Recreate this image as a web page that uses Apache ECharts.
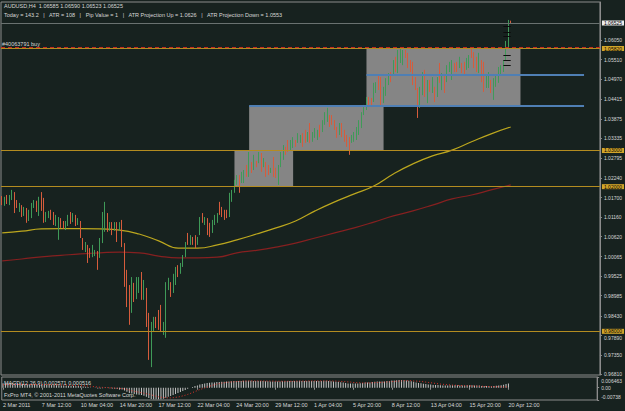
<!DOCTYPE html>
<html>
<head>
<meta charset="utf-8">
<title>AUDUSD,H4</title>
<script src="https://cdn.jsdelivr.net/npm/echarts@6/dist/echarts.min.js"></script>
<style>
  html, body { margin: 0; padding: 0; background: #17221f; }
  #chart { width: 625px; height: 411px; }
</style>
</head>
<body>
<div id="chart"></div>
<script>
// time labels under the MACD pane, one every 16 H4 bars
const tickLabels = ['2 Mar 2011', '7 Mar 12:00', '10 Mar 04:00', '14 Mar 20:00', '17 Mar 12:00',
  '22 Mar 04:00', '24 Mar 20:00', '29 Mar 12:00', '1 Apr 04:00', '5 Apr 20:00', '8 Apr 12:00',
  '13 Apr 04:00', '15 Apr 20:00', '20 Apr 12:00']
const tickEvery = 16
const slotCount = 245 // 209 bars + empty chart shift on the right

const opens = [
  1.0172, 1.0152, 1.0166, 1.0155, 1.0172, 1.0183, 1.0155, 1.0144, 1.0147, 1.0124,
  1.0138, 1.0108, 1.0124, 1.0147, 1.0158, 1.0133, 1.0169, 1.0141, 1.0111, 1.0122,
  1.0133, 1.0124, 1.0102, 1.0105, 1.0111, 1.0102, 1.0089, 1.0097, 1.0127, 1.0105,
  1.0119, 1.0097, 1.0102, 1.0058, 1.0025, 1.0036, 1.0025, 1.0008, 1.0016, 1.0019,
  1.0011, 1.0053, 1.0119, 1.0124, 1.0083, 1.0097, 1.0080, 1.0100, 1.0080, 1.0102,
  1.0039, 0.9934, 0.9887, 0.9854, 0.9928, 0.9895, 0.9914, 0.9956, 0.9895, 0.9914,
  0.9837, 0.9743, 0.9804, 0.9837, 0.9854, 0.9867, 0.9798, 0.9793, 0.9920, 0.9934,
  0.9912, 0.9936, 0.9978, 0.9964, 0.9983, 1.0011, 1.0066, 1.0047, 1.0058, 1.0061,
  1.0041, 1.0072, 1.0124, 1.0097, 1.0111, 1.0094, 1.0075, 1.0097, 1.0105, 1.0147,
  1.0138, 1.0133, 1.0130, 1.0119, 1.0161, 1.0185, 1.0208, 1.0227, 1.0213, 1.0224,
  1.0246, 1.0230, 1.0265, 1.0252, 1.0268, 1.0268, 1.0288, 1.0257, 1.0265, 1.0254,
  1.0241, 1.0279, 1.0246, 1.0224, 1.0260, 1.0285, 1.0307, 1.0326, 1.0310, 1.0313,
  1.0326, 1.0324, 1.0324, 1.0343, 1.0351, 1.0329, 1.0371, 1.0329, 1.0340, 1.0335,
  1.0365, 1.0357, 1.0379, 1.0387, 1.0395, 1.0395, 1.0382, 1.0362, 1.0351, 1.0371,
  1.0351, 1.0337, 1.0329, 1.0324, 1.0332, 1.0335, 1.0357, 1.0368, 1.0401, 1.0418,
  1.0442, 1.0440, 1.0440, 1.0467, 1.0500, 1.0481, 1.0440, 1.0459, 1.0484, 1.0514,
  1.0517, 1.0550, 1.0523, 1.0556, 1.0550, 1.0572, 1.0564, 1.0545, 1.0534, 1.0495,
  1.0467, 1.0426, 1.0459, 1.0506, 1.0445, 1.0489, 1.0467, 1.0473, 1.0453, 1.0500,
  1.0481, 1.0500, 1.0495, 1.0523, 1.0506, 1.0539, 1.0539, 1.0534, 1.0539, 1.0534,
  1.0528, 1.0539, 1.0578, 1.0564, 1.0553, 1.0528, 1.0545, 1.0523, 1.0478, 1.0484,
  1.0489, 1.0451, 1.0484, 1.0495, 1.0517, 1.0523, 1.0556, 1.0589, 1.06585
]
const highs = [
  1.0174, 1.0172, 1.0177, 1.0177, 1.0191, 1.0185, 1.0163, 1.0155, 1.0149, 1.0144,
  1.0141, 1.0136, 1.0155, 1.0163, 1.0161, 1.0172, 1.0185, 1.0169, 1.0130, 1.0133,
  1.0136, 1.0130, 1.0122, 1.0116, 1.0113, 1.0105, 1.0105, 1.0122, 1.0130, 1.0127,
  1.0122, 1.0113, 1.0105, 1.0058, 1.0047, 1.0039, 1.0030, 1.0039, 1.0025, 1.0022,
  1.0058, 1.0130, 1.0158, 1.0127, 1.0102, 1.0102, 1.0102, 1.0102, 1.0102, 1.0108,
  1.0044, 0.9970, 0.9928, 0.9950, 0.9934, 0.9950, 0.9950, 0.9964, 0.9942, 0.9920,
  0.9851, 0.9826, 0.9840, 0.9840, 0.9859, 0.9873, 0.9826, 0.9936, 0.9948, 0.9936,
  0.9959, 0.9978, 0.9983, 0.9989, 1.0011, 1.0047, 1.0072, 1.0066, 1.0061, 1.0066,
  1.0061, 1.0116, 1.0127, 1.0116, 1.0113, 1.0100, 1.0108, 1.0122, 1.0127, 1.0158,
  1.0144, 1.0136, 1.0136, 1.0183, 1.0191, 1.0219, 1.0232, 1.0232, 1.0241, 1.0246,
  1.0260, 1.0296, 1.0268, 1.0288, 1.0271, 1.0296, 1.0293, 1.0279, 1.0268, 1.0260,
  1.0252, 1.0282, 1.0252, 1.0260, 1.0296, 1.0315, 1.0310, 1.0329, 1.0329, 1.0337,
  1.0329, 1.0348, 1.0343, 1.0348, 1.0357, 1.0351, 1.0376, 1.0351, 1.0362, 1.0357,
  1.0371, 1.0384, 1.0406, 1.0418, 1.0398, 1.0398, 1.0384, 1.0365, 1.0376, 1.0376,
  1.0357, 1.0343, 1.0337, 1.0343, 1.0351, 1.0365, 1.0384, 1.0406, 1.0426, 1.0448,
  1.0448, 1.0445, 1.0487, 1.0489, 1.0509, 1.0503, 1.0476, 1.0500, 1.0514, 1.0517,
  1.0550, 1.0559, 1.0578, 1.0583, 1.0578, 1.0578, 1.0570, 1.0550, 1.0545, 1.0503,
  1.0473, 1.0476, 1.0517, 1.0523, 1.0495, 1.0495, 1.0503, 1.0476, 1.0503, 1.0542,
  1.0514, 1.0509, 1.0536, 1.0545, 1.0550, 1.0542, 1.0545, 1.0559, 1.0542, 1.0545,
  1.0556, 1.0564, 1.0583, 1.0572, 1.0559, 1.0570, 1.0550, 1.0545, 1.0509, 1.0517,
  1.0495, 1.0500, 1.0509, 1.0531, 1.0536, 1.0550, 1.0603, 1.0661, 1.06590
]
const lows = [
  1.0149, 1.0147, 1.0152, 1.0149, 1.0163, 1.0127, 1.0141, 1.0130, 1.0116, 1.0119,
  1.0100, 1.0105, 1.0113, 1.0141, 1.0130, 1.0119, 1.0133, 1.0100, 1.0102, 1.0113,
  1.0108, 1.0094, 1.0091, 1.0053, 1.0086, 1.0083, 1.0080, 1.0091, 1.0097, 1.0102,
  1.0091, 1.0094, 1.0058, 1.0025, 1.0019, 0.9989, 1.0003, 1.0005, 1.0008, 0.9970,
  1.0003, 1.0044, 1.0075, 1.0075, 1.0078, 1.0066, 1.0078, 1.0047, 1.0078, 1.0033,
  0.9923, 0.9867, 0.9818, 0.9851, 0.9881, 0.9889, 0.9906, 0.9887, 0.9887, 0.9812,
  0.9721, 0.9701, 0.9798, 0.9809, 0.9804, 0.9798, 0.9790, 0.9782, 0.9914, 0.9895,
  0.9906, 0.9928, 0.9950, 0.9959, 0.9978, 1.0005, 1.0039, 1.0039, 1.0039, 1.0030,
  1.0039, 1.0066, 1.0100, 1.0094, 1.0066, 1.0061, 1.0072, 1.0094, 1.0100, 1.0122,
  1.0116, 1.0108, 1.0113, 1.0116, 1.0158, 1.0183, 1.0205, 1.0183, 1.0210, 1.0210,
  1.0227, 1.0227, 1.0238, 1.0246, 1.0254, 1.0265, 1.0241, 1.0254, 1.0227, 1.0232,
  1.0238, 1.0227, 1.0224, 1.0205, 1.0254, 1.0274, 1.0288, 1.0296, 1.0301, 1.0307,
  1.0310, 1.0321, 1.0321, 1.0310, 1.0321, 1.0324, 1.0321, 1.0324, 1.0335, 1.0329,
  1.0337, 1.0351, 1.0371, 1.0379, 1.0365, 1.0371, 1.0357, 1.0335, 1.0343, 1.0337,
  1.0324, 1.0310, 1.0288, 1.0321, 1.0324, 1.0329, 1.0343, 1.0362, 1.0398, 1.0412,
  1.0420, 1.0420, 1.0434, 1.0459, 1.0467, 1.0420, 1.0431, 1.0451, 1.0481, 1.0489,
  1.0509, 1.0517, 1.0514, 1.0542, 1.0536, 1.0556, 1.0528, 1.0517, 1.0481, 1.0467,
  1.0390, 1.0418, 1.0453, 1.0448, 1.0431, 1.0462, 1.0459, 1.0434, 1.0448, 1.0487,
  1.0467, 1.0459, 1.0489, 1.0517, 1.0495, 1.0517, 1.0517, 1.0528, 1.0514, 1.0509,
  1.0523, 1.0528, 1.0556, 1.0528, 1.0517, 1.0514, 1.0489, 1.0462, 1.0473, 1.0473,
  1.0459, 1.0440, 1.0476, 1.0487, 1.0509, 1.0517, 1.0550, 1.0586, 1.06523
]
const closes = [
  1.0152, 1.0166, 1.0155, 1.0172, 1.0185, 1.0136, 1.0144, 1.0149, 1.0124, 1.0138,
  1.0105, 1.0130, 1.0149, 1.0161, 1.0136, 1.0163, 1.0141, 1.0108, 1.0124, 1.0130,
  1.0113, 1.0100, 1.0113, 1.0111, 1.0091, 1.0089, 1.0100, 1.0113, 1.0102, 1.0124,
  1.0097, 1.0108, 1.0064, 1.0030, 1.0041, 1.0003, 1.0008, 1.0030, 1.0022, 0.9981,
  1.0053, 1.0122, 1.0149, 1.0083, 1.0097, 1.0075, 1.0097, 1.0053, 1.0097, 1.0039,
  0.9934, 0.9878, 0.9831, 0.9942, 0.9887, 0.9939, 0.9942, 0.9898, 0.9931, 0.9826,
  0.9735, 0.9795, 0.9834, 0.9815, 0.9809, 0.9809, 0.9820, 0.9928, 0.9942, 0.9901,
  0.9953, 0.9970, 0.9956, 0.9983, 1.0005, 1.0041, 1.0044, 1.0064, 1.0041, 1.0036,
  1.0058, 1.0111, 1.0102, 1.0113, 1.0080, 1.0064, 1.0102, 1.0119, 1.0124, 1.0127,
  1.0119, 1.0113, 1.0116, 1.0177, 1.0185, 1.0213, 1.0227, 1.0191, 1.0232, 1.0241,
  1.0232, 1.0288, 1.0246, 1.0282, 1.0257, 1.0290, 1.0252, 1.0274, 1.0232, 1.0238,
  1.0249, 1.0232, 1.0227, 1.0254, 1.0290, 1.0310, 1.0290, 1.0299, 1.0324, 1.0332,
  1.0313, 1.0343, 1.0337, 1.0315, 1.0326, 1.0346, 1.0335, 1.0346, 1.0357, 1.0354,
  1.0343, 1.0379, 1.0401, 1.0412, 1.0371, 1.0376, 1.0362, 1.0340, 1.0365, 1.0343,
  1.0329, 1.0315, 1.0293, 1.0337, 1.0343, 1.0359, 1.0376, 1.0401, 1.0423, 1.0442,
  1.0429, 1.0426, 1.0478, 1.0481, 1.0473, 1.0434, 1.0467, 1.0489, 1.0506, 1.0495,
  1.0545, 1.0528, 1.0567, 1.0572, 1.0570, 1.0559, 1.0536, 1.0523, 1.0489, 1.0473,
  1.0445, 1.0467, 1.0509, 1.0459, 1.0484, 1.0467, 1.0495, 1.0440, 1.0495, 1.0489,
  1.0500, 1.0467, 1.0531, 1.0539, 1.0545, 1.0523, 1.0523, 1.0553, 1.0520, 1.0514,
  1.0550, 1.0559, 1.0561, 1.0542, 1.0525, 1.0556, 1.0500, 1.0473, 1.0500, 1.0506,
  1.0467, 1.0489, 1.0503, 1.0525, 1.0531, 1.0545, 1.0592, 1.0658, 1.06525
]

// moving averages, read every 8th bar
const maIndex = [0, 8, 16, 24, 32, 40, 48, 56, 64, 72, 80, 88, 96, 104, 112, 120, 128, 136,
  144, 152, 160, 168, 176, 184, 192, 200, 208]
const maYellow = [1.0072, 1.0077, 1.0083, 1.0084, 1.0084, 1.0083, 1.0080, 1.0069, 1.0050,
  1.0030, 1.0030, 1.0039, 1.0053, 1.0069, 1.0086, 1.0105, 1.0133, 1.0158, 1.0180, 1.0202,
  1.0235, 1.0263, 1.0285, 1.0301, 1.0324, 1.0346, 1.0365]
const maRed = [0.9995, 1.0000, 1.0006, 1.0010, 1.0014, 1.0017, 1.0019, 1.0017, 1.0008,
  1.0003, 1.0003, 1.0005, 1.0017, 1.0024, 1.0033, 1.0044, 1.0058, 1.0072, 1.0086, 1.0102,
  1.0119, 1.0133, 1.0149, 1.0166, 1.0177, 1.0191, 1.0205]

const macdMain = [
  0.0027, 0.0027, 0.0028, 0.0028, 0.0029, 0.0028, 0.0027, 0.0026, 0.0024, 0.0023,
  0.0021, 0.0020, 0.0020, 0.0019, 0.0019, 0.0019, 0.0020, 0.0019, 0.0018, 0.0017,
  0.0017, 0.0016, 0.0015, 0.0015, 0.0014, 0.0013, 0.0012, 0.0012, 0.0012, 0.0012,
  0.0011, 0.0011, 0.0010, 0.0008, 0.0006, 0.0004, 0.0002, 0.0000, -0.0002, -0.0005,
  -0.0005, -0.0003, -0.0001, -0.0002, -0.0003, -0.0005, -0.0006, -0.0008, -0.0009, -0.0010,
  -0.0016, -0.0024, -0.0032, -0.0035, -0.0038, -0.0040, -0.0042, -0.0044, -0.0048, -0.0054,
  -0.0062, -0.0068, -0.0070, -0.0070, -0.0070, -0.0069, -0.0067, -0.0060, -0.0054, -0.0050,
  -0.0044, -0.0038, -0.0032, -0.0026, -0.0020, -0.0013, -0.0006, 0.0000, 0.0005, 0.0010,
  0.0014, 0.0019, 0.0023, 0.0026, 0.0028, 0.0030, 0.0031, 0.0032, 0.0034, 0.0035,
  0.0036, 0.0036, 0.0037, 0.0038, 0.0039, 0.0040, 0.0041, 0.0041, 0.0041, 0.0042,
  0.0042, 0.0042, 0.0042, 0.0041, 0.0041, 0.0041, 0.0040, 0.0040, 0.0039, 0.0039,
  0.0038, 0.0037, 0.0037, 0.0037, 0.0038, 0.0039, 0.0039, 0.0040, 0.0040, 0.0041,
  0.0041, 0.0041, 0.0042, 0.0041, 0.0041, 0.0041, 0.0041, 0.0041, 0.0041, 0.0041,
  0.0041, 0.0041, 0.0042, 0.0042, 0.0041, 0.0039, 0.0038, 0.0036, 0.0035, 0.0033,
  0.0031, 0.0029, 0.0026, 0.0025, 0.0025, 0.0025, 0.0026, 0.0027, 0.0029, 0.0031,
  0.0032, 0.0032, 0.0034, 0.0036, 0.0038, 0.0037, 0.0037, 0.0038, 0.0040, 0.0041,
  0.0043, 0.0044, 0.0045, 0.0046, 0.0046, 0.0045, 0.0044, 0.0042, 0.0039, 0.0036,
  0.0032, 0.0029, 0.0027, 0.0024, 0.0022, 0.0020, 0.0019, 0.0017, 0.0016, 0.0016,
  0.0015, 0.0014, 0.0014, 0.0014, 0.0015, 0.0015, 0.0015, 0.0015, 0.0014, 0.0014,
  0.0014, 0.0015, 0.0015, 0.0015, 0.0014, 0.0014, 0.0013, 0.0011, 0.0010, 0.0010,
  0.0009, 0.0009, 0.0010, 0.0012, 0.0013, 0.0015, 0.0018, 0.0023, 0.002571
]
const macdSignal = [
  0.0018, 0.0018, 0.0018, 0.0019, 0.0019, 0.0019, 0.0020, 0.0020, 0.0020, 0.0020,
  0.0020, 0.0020, 0.0019, 0.0019, 0.0019, 0.0019, 0.0019, 0.0019, 0.0019, 0.0019,
  0.0018, 0.0018, 0.0018, 0.0017, 0.0017, 0.0016, 0.0016, 0.0015, 0.0015, 0.0014,
  0.0014, 0.0013, 0.0013, 0.0012, 0.0011, 0.0010, 0.0009, 0.0007, 0.0006, 0.0004,
  0.0003, 0.0002, 0.0001, 0.0000, 0.0000, -0.0001, -0.0002, -0.0003, -0.0004, -0.0005,
  -0.0007, -0.0010, -0.0014, -0.0018, -0.0021, -0.0024, -0.0027, -0.0030, -0.0033, -0.0036,
  -0.0039, -0.0043, -0.0047, -0.0051, -0.0054, -0.0057, -0.0059, -0.0061, -0.0061, -0.0061,
  -0.0060, -0.0058, -0.0056, -0.0053, -0.0049, -0.0045, -0.0040, -0.0035, -0.0029, -0.0023,
  -0.0017, -0.0011, -0.0006, -0.0001, 0.0004, 0.0009, 0.0014, 0.0018, 0.0022, 0.0025,
  0.0028, 0.0030, 0.0032, 0.0034, 0.0035, 0.0036, 0.0037, 0.0038, 0.0039, 0.0040,
  0.0040, 0.0041, 0.0041, 0.0041, 0.0041, 0.0041, 0.0041, 0.0041, 0.0040, 0.0040,
  0.0040, 0.0040, 0.0039, 0.0039, 0.0039, 0.0039, 0.0039, 0.0039, 0.0039, 0.0039,
  0.0040, 0.0040, 0.0040, 0.0040, 0.0040, 0.0040, 0.0041, 0.0041, 0.0041, 0.0041,
  0.0041, 0.0041, 0.0041, 0.0041, 0.0041, 0.0041, 0.0040, 0.0040, 0.0039, 0.0038,
  0.0037, 0.0036, 0.0035, 0.0034, 0.0032, 0.0031, 0.0030, 0.0030, 0.0029, 0.0029,
  0.0029, 0.0029, 0.0030, 0.0031, 0.0031, 0.0032, 0.0033, 0.0034, 0.0035, 0.0036,
  0.0037, 0.0038, 0.0039, 0.0040, 0.0041, 0.0042, 0.0042, 0.0042, 0.0042, 0.0041,
  0.0040, 0.0039, 0.0038, 0.0036, 0.0034, 0.0032, 0.0030, 0.0028, 0.0026, 0.0024,
  0.0022, 0.0021, 0.0019, 0.0018, 0.0017, 0.0016, 0.0015, 0.0014, 0.0013, 0.0013,
  0.0012, 0.0012, 0.0011, 0.0011, 0.0010, 0.0010, 0.0009, 0.0009, 0.0008, 0.0008,
  0.0007, 0.0007, 0.0006, 0.0006, 0.0006, 0.0005, 0.0005, 0.0005, 0.000516
]

const priceTicks = [1.06050, 1.05510, 1.04970, 1.04415, 1.03875, 1.03335, 1.02795, 1.02240,
  1.01700, 1.01160, 1.00620, 1.00065, 0.99525, 0.98985, 0.98430, 0.97890, 0.97350, 0.96810]
const nudgedTick = 0.97890 // sits just under the 0.98000 level box
const priceMin = 0.96792
const priceMax = 1.07106
const macdTicks = [0.006463, 0, -0.00738]
const macdTickLabels = ['0.006463', '0.00', '-0.00738']

// chart objects
const levels = [1.0582, 1.03, 1.02, 0.98]
const bidPrice = 1.06525
const orderPrice = 1.05845
const orderText = '#40063791 buy'
const boxes = [[95, 1.03, 119, 1.02], [101, 1.0423, 156, 1.03], [149, 1.0582, 212, 1.0423]]
const blueLines = [[149, 238, 1.0510], [101, 238, 1.0423]]
const projMarks = [1.0644, 1.0628, 1.0617, 1.0564, 1.0550, 1.0536]

const headerLine1 = 'AUDUSD,H4  1.06585 1.06590 1.06523 1.06525'
const headerLine2 = 'Today = 143.2   |   ATR = 108   |   Pip Value = 1   |   ATR Projection Up = 1.0626   |   ATR Projection Down = 1.0553'
const macdTitle = 'MACD(12,26,9) 0.002571 0.000516'
const copyright = 'FxPro MT4, \u00a9 2001-2011 MetaQuotes Software Corp.'

const FONT = 'Liberation Sans, Arial, sans-serif'
const BG = '#17221f'
const GOLD = '#b48c20'
const GOLD_BOX = '#d2a52a'
const FRAME = '#8c8c8c'
const TEXT = '#d8d8d8'
const UP = '#3f9a58'
const DOWN = '#d65c3c'

const slots = Array.from({ length: slotCount }, (_, i) => String(i))
const candles = opens.map((o, i) => [o, closes[i], lows[i], highs[i]])
const showTick = (i) => i % tickEvery === 0 && i / tickEvery < tickLabels.length

const axisLabelBox = (txt, bg) => ({
  show: true,
  position: 'end',
  distance: 2,
  formatter: txt,
  color: '#000',
  backgroundColor: bg,
  fontSize: 5,
  lineHeight: 5,
  fontFamily: FONT,
  padding: [0, 2]
})

const chart = echarts.init(document.getElementById('chart'), null, { renderer: 'svg' })

chart.setOption({
  backgroundColor: BG,
  animation: false,
  grid: [
    { left: 1, right: 23, top: 2, height: 373, show: true, borderColor: FRAME, borderWidth: 1, backgroundColor: 'transparent' },
    { left: 1, right: 23, top: 377, height: 23, show: true, borderColor: FRAME, borderWidth: 1, backgroundColor: 'transparent' }
  ],
  xAxis: [
    {
      type: 'category', gridIndex: 0, data: slots,
      axisLine: { show: false }, axisTick: { show: false },
      axisLabel: { show: false }, splitLine: { show: false }
    },
    {
      type: 'category', gridIndex: 1, data: slots,
      axisLine: { show: false },
      axisTick: { show: true, interval: showTick, alignWithLabel: true, length: 2, lineStyle: { color: FRAME } },
      axisLabel: {
        show: true, interval: showTick, align: 'left', margin: 2,
        color: TEXT, fontSize: 5.5, fontFamily: FONT,
        formatter: (v, i) => tickLabels[Math.round(i / tickEvery)]
      },
      splitLine: { show: false }
    }
  ],
  yAxis: [
    {
      type: 'value', gridIndex: 0, position: 'right', min: priceMin, max: priceMax,
      splitLine: { show: false },
      axisLine: { show: true, lineStyle: { color: FRAME } },
      axisTick: { show: true, length: 2, customValues: priceTicks, lineStyle: { color: FRAME } },
      axisLabel: {
        customValues: priceTicks, margin: 4, color: TEXT, fontSize: 5, fontFamily: FONT,
        formatter: (v) => Math.abs(v - nudgedTick) < 1e-9 ? '{lo|' + v.toFixed(5) + '}' : v.toFixed(5),
        rich: {
          lo: { fontSize: 5, fontFamily: FONT, color: TEXT, padding: [5, 0, 0, 0] }
        }
      }
    },
    {
      type: 'value', gridIndex: 1, position: 'right', min: macdTicks[2], max: macdTicks[0],
      splitLine: { show: false },
      axisLine: { show: true, lineStyle: { color: FRAME } },
      axisTick: { show: true, length: 2, customValues: macdTicks, lineStyle: { color: FRAME } },
      axisLabel: {
        customValues: macdTicks, margin: 4, color: TEXT, fontSize: 5, fontFamily: FONT,
        formatter: (v) => {
          const k = macdTicks.indexOf(v)
          if (k === 0) return '{t|' + macdTickLabels[0] + '}'
          if (k === 2) return '{b|' + macdTickLabels[2] + '}'
          return macdTickLabels[1]
        },
        rich: {
          t: { fontSize: 5, fontFamily: FONT, color: TEXT, padding: [7, 0, 0, 0] },
          b: { fontSize: 5, fontFamily: FONT, color: TEXT, padding: [0, 0, 7, 0] }
        }
      }
    }
  ],
  graphic: [
    { type: 'text', left: 4, top: 3, style: { text: headerLine1, fill: TEXT, fontSize: 5.5, fontFamily: FONT } },
    { type: 'text', left: 4, top: 11.5, style: { text: headerLine2, fill: TEXT, fontSize: 5.5, fontFamily: FONT } },
    { type: 'text', left: 4, top: 379.5, style: { text: macdTitle, fill: TEXT, fontSize: 5.5, fontFamily: FONT } },
    { type: 'text', left: 4, top: 391.5, style: { text: copyright, fill: TEXT, fontSize: 5.5, fontFamily: FONT } }
  ],
  series: [
    {
      name: 'MA yellow', type: 'line', xAxisIndex: 0, yAxisIndex: 0,
      data: maIndex.map((k, j) => [k, maYellow[j]]),
      smooth: true, symbol: 'none', z: 3,
      lineStyle: { color: '#bca71e', width: 1.2 },
      markLine: {
        silent: true, symbol: 'none', animation: false, precision: 6,
        data: projMarks.map((v) => [
          { coord: [205, v], lineStyle: { color: '#0c0c0c', width: 1, type: 'solid' }, label: { show: false } },
          { coord: [208, v] }
        ])
      }
    },
    {
      name: 'MA red', type: 'line', xAxisIndex: 0, yAxisIndex: 0,
      data: maIndex.map((k, j) => [k, maRed[j]]),
      smooth: true, symbol: 'none', z: 3,
      lineStyle: { color: '#862020', width: 1.2 }
    },
    {
      name: 'AUDUSD', type: 'candlestick', xAxisIndex: 0, yAxisIndex: 0,
      data: candles, barWidth: 1, z: 4,
      itemStyle: { color: UP, color0: DOWN, borderColor: UP, borderColor0: DOWN, borderWidth: 1 },
      markArea: {
        silent: true,
        itemStyle: { color: '#858585' },
        data: boxes.map(([a, top, b, bottom]) => [{ coord: [a, top] }, { coord: [b, bottom] }])
      },
      markLine: {
        silent: true, symbol: 'none', animation: false, precision: 6,
        data: [
          ...levels.map((v) => ({
            yAxis: v,
            lineStyle: { color: GOLD, width: 1, type: 'solid' },
            label: axisLabelBox(v.toFixed(5), GOLD_BOX)
          })),
          {
            yAxis: bidPrice,
            lineStyle: { color: '#6a7270', width: 1, type: 'solid' },
            label: axisLabelBox(bidPrice.toFixed(5), '#ececec')
          },
          {
            yAxis: orderPrice,
            lineStyle: { color: '#c42a1e', width: 1, type: [4, 3] },
            label: { show: true, position: 'insideStartTop', distance: 1, formatter: orderText, color: TEXT, fontSize: 5.5, fontFamily: FONT }
          },
          ...blueLines.map(([a, b, v]) => [
            { coord: [a, v], lineStyle: { color: '#4f7fb4', width: 2, type: 'solid' }, label: { show: false } },
            { coord: [b, v] }
          ])
        ]
      }
    },
    {
      name: 'MACD', type: 'bar', xAxisIndex: 1, yAxisIndex: 1,
      data: macdMain, barWidth: 1,
      itemStyle: { color: '#c4c4c4' }
    },
    {
      name: 'Signal', type: 'line', xAxisIndex: 1, yAxisIndex: 1,
      data: macdSignal, symbol: 'none',
      lineStyle: { color: '#e0342c', width: 1, type: [1, 2] }
    }
  ]
})
</script>
</body>
</html>
